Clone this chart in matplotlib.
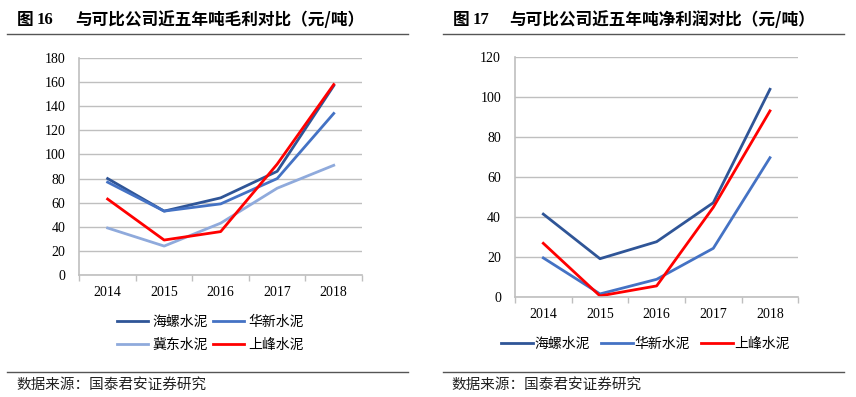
import matplotlib
matplotlib.use("Agg")
import matplotlib.pyplot as plt
from matplotlib.lines import Line2D
import numpy as np

plt.rcParams['font.family'] = ['Noto Sans CJK SC', 'DejaVu Sans']

years = ['2014', '2015', '2016', '2017', '2018']

# 吨毛利 (元/吨)
gross_hailuo = [80, 53, 64, 86, 157]
gross_huaxin = [77, 53, 59, 80, 134]
gross_jidong = [39, 24, 43, 72, 91]
gross_shangfeng = [63, 29, 36, 92, 158]

# 吨净利润 (元/吨)
net_hailuo = [41.6, 19.3, 27.8, 47.3, 104]
net_huaxin = [19.7, 1.7, 9, 24.5, 69.8]
net_shangfeng = [27, 0.7, 5.7, 45, 93.2]

names = ['海螺水泥', '华新水泥', '冀东水泥', '上峰水泥']
colors = {'海螺水泥': '#2F5597', '华新水泥': '#4472C4',
          '冀东水泥': '#8FAADC', '上峰水泥': '#FF0000'}

num_font = 'Liberation Serif'
grid_c = '#BFBFBF'

fig = plt.figure(figsize=(8.56, 3.97), dpi=100)


def style_axis(ax, ymax, step):
    x = np.arange(len(years))
    ax.set_xlim(-0.5, len(years) - 0.5)
    ax.set_ylim(0, ymax)
    ax.set_yticks(np.arange(0, ymax + 1, step))
    ax.set_xticks(x)
    ax.set_xticklabels(years)
    ax.set_xticks(np.arange(-0.5, len(years)), minor=True)
    ax.tick_params(axis='x', which='major', length=0, pad=8)
    ax.tick_params(axis='x', which='minor', length=4, color=grid_c, width=1)
    ax.tick_params(axis='y', length=0, pad=10)
    for lab in ax.get_xticklabels() + ax.get_yticklabels():
        lab.set_fontfamily(num_font)
        lab.set_fontsize(10)
        lab.set_color('#000000')
    ax.grid(axis='y', color=grid_c, lw=1)
    ax.set_axisbelow(True)
    for s in ['top', 'right']:
        ax.spines[s].set_visible(False)
    for s in ['left', 'bottom']:
        ax.spines[s].set_color(grid_c)
        ax.spines[s].set_linewidth(1.2)


# left chart
ax1 = fig.add_axes([0.0927, 0.3073, 0.3302, 0.5466])
x = np.arange(len(years))
h = {}
for name, vals in zip(names, [gross_hailuo, gross_huaxin, gross_jidong, gross_shangfeng]):
    h[name], = ax1.plot(x, vals, color=colors[name], lw=2)
style_axis(ax1, 180, 20)
order = ['海螺水泥', '冀东水泥', '华新水泥', '上峰水泥']
fig.legend([h[n] for n in order], order, ncol=2, loc='center',
           bbox_to_anchor=(0.246, 0.161), frameon=False, fontsize=10,
           handlelength=2.2, handletextpad=0.35, columnspacing=0.35,
           labelspacing=0.65)

# right chart
ax2 = fig.add_axes([0.6016, 0.2511, 0.3310, 0.6046])
h2 = []
for name, vals in zip(['海螺水泥', '华新水泥', '上峰水泥'], [net_hailuo, net_huaxin, net_shangfeng]):
    line, = ax2.plot(x, vals, color=colors[name], lw=2)
    h2.append(line)
style_axis(ax2, 120, 20)
fig.legend(h2, ['海螺水泥', '华新水泥', '上峰水泥'], ncol=3, loc='center',
           bbox_to_anchor=(0.754, 0.1335), frameon=False, fontsize=10,
           handlelength=2.3, handletextpad=0.15, columnspacing=0.75)

# titles, rules and source notes
W, H = 856, 397


def fx(px):
    return px / W


def fy(py):
    return 1 - py / H


title_kw = dict(fontsize=12, fontweight='bold', va='center', ha='left')
fig.text(fx(17), fy(20), '图', **title_kw)
fig.text(fx(37), fy(20), '16', family=[num_font, 'Noto Sans CJK SC'], **title_kw)
fig.text(fx(75), fy(20), '与可比公司近五年吨毛利对比（元/吨）', **title_kw)
fig.text(fx(453), fy(20), '图', **title_kw)
fig.text(fx(473), fy(20), '17', family=[num_font, 'Noto Sans CJK SC'], **title_kw)
fig.text(fx(509), fy(20), '与可比公司近五年吨净利润对比（元/吨）', **title_kw)

for x0, x1 in [(7, 408), (443, 844)]:
    for yy in [33.5, 372]:
        fig.add_artist(Line2D([fx(x0), fx(x1)], [fy(yy), fy(yy)], color='#555555', lw=1))

src_kw = dict(fontsize=10.5, va='center', ha='left', color='#222222')
fig.text(fx(16), fy(385), '数据来源：国泰君安证券研究', **src_kw)
fig.text(fx(451), fy(385), '数据来源：国泰君安证券研究', **src_kw)

fig.savefig('out.png', dpi=100)
